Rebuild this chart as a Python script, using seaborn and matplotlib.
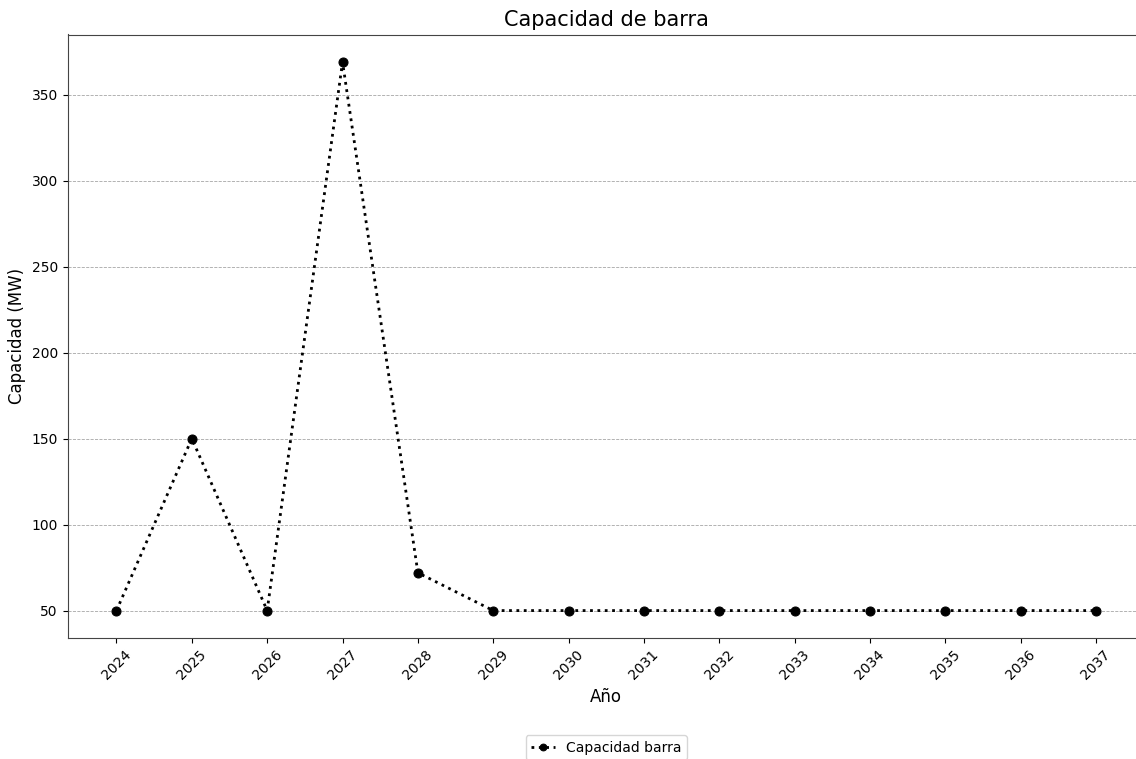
import matplotlib
matplotlib.use("Agg")
import matplotlib.pyplot as plt
import seaborn as sns
import pandas as pd

years = [2024, 2025, 2026, 2027, 2028, 2029, 2030, 2031, 2032, 2033, 2034, 2035, 2036, 2037]
capacity = [50, 150, 50, 369, 72, 50, 50, 50, 50, 50, 50, 50, 50, 50]

df = pd.DataFrame({"Año": years, "Capacidad": capacity})

W, H = 1136, 759
fig = plt.figure(figsize=(W / 100, H / 100), dpi=100)
left, right, top, bottom = 67.5, 1145, 34.5, 638
ax = fig.add_axes([left / W, 1 - bottom / H, (right - left) / W, (bottom - top) / H])

sns.lineplot(data=df, x="Año", y="Capacidad", ax=ax, color="black",
             linestyle=":", linewidth=2, marker="o", markersize=6.5,
             markeredgecolor="black", label="Capacidad barra", legend=False)

ax.set_title("Capacidad de barra", fontsize=15)
ax.set_xlabel("Año", fontsize=12)
ax.set_ylabel("Capacidad (MW)", fontsize=12)
ax.set_xticks(years)
ax.set_xticklabels([str(y) for y in years], rotation=45)
ax.yaxis.grid(True, linestyle="--", color="grey", linewidth=0.6, alpha=0.7)
ax.set_axisbelow(True)
for s in ax.spines.values():
    s.set_color("#444444")

ax.legend(loc="upper center", bbox_to_anchor=(0.5, -(735 - bottom) / (bottom - top)),
          borderaxespad=0, markerscale=0.75, handlelength=1.7)

fig.savefig("out.png", dpi=100)
